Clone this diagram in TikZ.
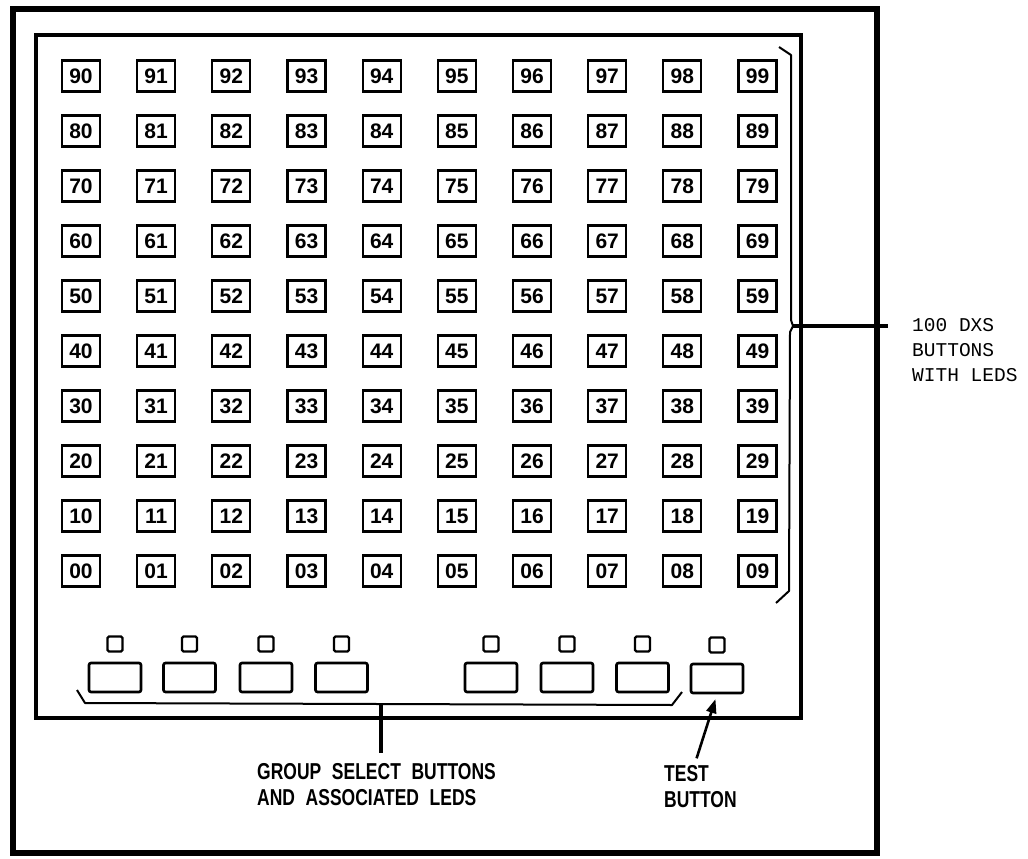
\documentclass[tikz,border=0pt]{standalone}
\usepackage{fontspec}
\setmainfont{Liberation Sans}
\newfontfamily\narrowfont[FakeStretch=0.76, WordSpace=2.2]{Liberation Sans}
\newfontfamily\dxsfont{Liberation Mono}
\usetikzlibrary{arrows.meta, positioning}

\begin{document}
\begin{tikzpicture}[x=1pt, y=-1pt,
  % numbered DXS button (one per group/member)
  dxsbtn/.style={rectangle, draw=black, line width=2.2pt, minimum width=38pt, minimum height=31pt, inner sep=0pt, font=\fontsize{21}{21}\selectfont\bfseries},
  % small LED square above a group button
  led/.style={rectangle, draw=black, line width=2.4pt, rounded corners=1.5pt, minimum size=15pt, inner sep=0pt},
  % group select / test button
  grpbtn/.style={rectangle, draw=black, line width=2.6pt, rounded corners=2pt, minimum width=52pt, minimum height=29pt, inner sep=0pt},
  % bold narrow call-out text under the panel
  callout/.style={align=left, inner sep=0pt, font=\narrowfont\bfseries\fontsize{23}{26.5}\selectfont},
  % thin text on the right
  sidenote/.style={align=left, inner sep=0pt, font=\dxsfont\fontsize{19.5}{25}\selectfont},
  brace/.style={line width=2pt, line join=round},
  lead/.style={line width=3.5pt}
]
\useasboundingbox (0,0) rectangle (1028,859);

% ---- Frames ----
\draw[line width=6pt] (13,9) rectangle (877,853);
\draw[line width=4pt] (35.5,35) rectangle (801,718);

% ---- 100 DXS buttons (rows 90..99 at top, 00..09 at bottom) ----
\foreach \r in {0,...,9}{
  \foreach \c in {0,...,9}{
    \node[dxsbtn] (d\r\c) at ({81+75.17*\c}, {571-55*\r}) {\r\c};
  }
}

% ---- Group select buttons with LEDs ----
\foreach \n/\x in {1/115, 2/189.5, 3/266, 4/341.5, 5/491, 6/567, 7/642.5}{
  \node[grpbtn] (grp\n) at (\x,677.5) {};
  \node[led, above=9pt of grp\n] (led\n) {};
}
\node[grpbtn] (test) at (717,678.5) {};
\node[led, above=9pt of test] (ledt) {};

% ---- Right brace and label ----
\draw[brace] (779,47) -- (791,55) -- (791,320) -- (793,326) -- (790,332) -- (789,591) -- (776,603);
\coordinate (dxsmid) at (792,326);
\coordinate (dxsend) at (888,326);
\draw[lead] (dxsmid) -- (dxsend);
\node[sidenote, anchor=north west] (dxslbl) at (912,318) {100 DXS\\BUTTONS\\WITH LEDS};

% ---- Lower brace and labels ----
\draw[brace] (77,690) -- (85,703) -- (672,705) -- (682,692);
\coordinate (grpmid) at (381,703.5);
\node[callout, anchor=north west] (grplbl) at (257,763) {GROUP SELECT BUTTONS\\AND ASSOCIATED LEDS};
\draw[lead] (grpmid) -- (grpmid |- grplbl.north) [shorten >=10pt];
\node[callout, anchor=north west] (testlbl) at (664,765) {TEST\\BUTTON};
\draw[line width=2.6pt, -{Triangle[length=14pt,width=10pt]}, shorten <=7pt, shorten >=5pt]
  ([xshift=-6pt]testlbl.north) -- (test.south);

\end{tikzpicture}
\end{document}
